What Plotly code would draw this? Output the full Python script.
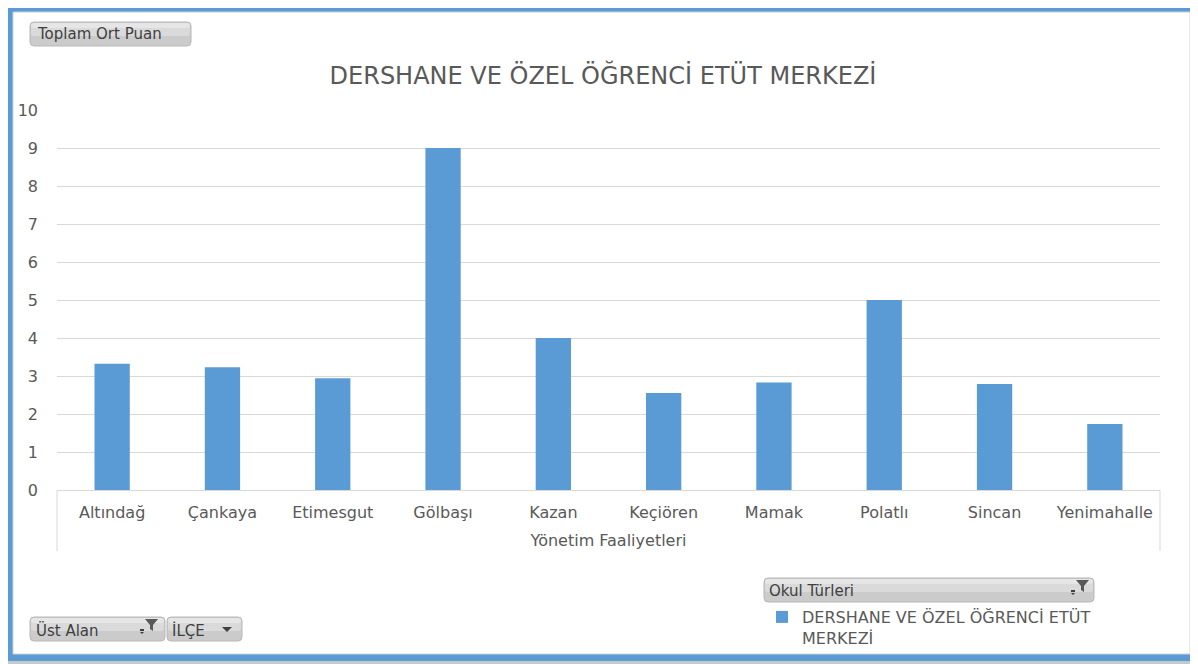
import plotly.graph_objects as go

# the page puts the figure 8px in from the top-left corner
OFF = 8
W, H = 1198 - OFF, 664 - OFF

ilceler = ["Altındağ", "Çankaya", "Etimesgut", "Gölbaşı", "Kazan",
           "Keçiören", "Mamak", "Polatlı", "Sincan", "Yenimahalle"]
puanlar = [3.32, 3.23, 2.94, 9.0, 4.0, 2.55, 2.83, 5.0, 2.79, 1.74]
y_ticks = list(range(0, 11))

seri_adi = "DERSHANE VE ÖZEL ÖĞRENCİ ETÜT MERKEZİ"
baslik = "DERSHANE VE ÖZEL ÖĞRENCİ ETÜT MERKEZİ"
x_baslik = "Yönetim Faaliyetleri"

MAVI = "#5b9bd5"
GRI_YAZI = "#595959"
GRID = "#d9d9d9"
FONT = "DejaVu Sans"

# plot area, in page pixels: x 57..1160, y 110..490
ML, MR = 57 - OFF, 1198 - 1160
MT, MB = 110 - OFF, 664 - 490
PW = W - ML - MR
PH = H - MT - MB


def fx(px):
    return (px - OFF - ML) / PW


def fy(py):
    return (490 - py) / PH


def rrect(x0, y0, x1, y1, r=4):
    # rounded rectangle, page pixels -> paper coords
    rx, ry = r / PW, r / PH
    a, b, c, d = fx(x0), fx(x1), fy(y0), fy(y1)
    return (f"M {a+rx},{c} L {b-rx},{c} Q {b},{c} {b},{c-ry} "
            f"L {b},{d+ry} Q {b},{d} {b-rx},{d} L {a+rx},{d} "
            f"Q {a},{d} {a},{d+ry} L {a},{c-ry} Q {a},{c} {a+rx},{c} Z")


def rect(x0, y0, x1, y1, fill, line=None, layer="below"):
    return dict(type="rect", xref="paper", yref="paper",
                x0=fx(x0), x1=fx(x1), y0=fy(y1), y1=fy(y0),
                fillcolor=fill, line=dict(width=0 if line is None else 1,
                                          color=line or fill),
                layer=layer)


def poly(pts, color):
    p = "M " + " L ".join(f"{fx(x)},{fy(y)}" for x, y in pts) + " Z"
    return dict(type="path", path=p, xref="paper", yref="paper",
                fillcolor=color, line=dict(width=0), layer="above")


def button(x0, y0, x1, y1):
    mid = (y0 + y1) / 2
    return [
        dict(type="path", path=rrect(x0, y0, x1, y1), xref="paper", yref="paper",
             fillcolor="#cbcbcb", line=dict(color="#b8b8b8", width=1), layer="above"),
        dict(type="path", path=rrect(x0 + 1, y0 + 1, x1 - 1, mid + 2, 3),
             xref="paper", yref="paper", fillcolor="#dadada",
             line=dict(width=0), layer="above"),
        dict(type="path", path=rrect(x0 + 1, y0 + 1, x1 - 1, y0 + 6, 3),
             xref="paper", yref="paper", fillcolor="#e6e6e6",
             line=dict(width=0), layer="above"),
    ]


def funnel(x, y):
    # x,y = top-left of the funnel icon
    return [
        poly([(x, y), (x + 13, y), (x + 8, y + 6), (x + 8, y + 12),
              (x + 5, y + 10), (x + 5, y + 6)], "#595959"),
        rect(x - 5, y + 10, x - 1, y + 12, "#404040", layer="above"),
        poly([(x - 5, y + 13), (x - 1, y + 13), (x - 3, y + 15)], "#404040"),
    ]


fig = go.Figure()
fig.add_trace(go.Bar(
    x=ilceler, y=puanlar,
    name=seri_adi.replace("ETÜT ", "ETÜT<br>"),
    marker=dict(color=MAVI, line=dict(width=0)),
    showlegend=True,
))

shapes = [
    # blue frame with a soft shadow
    rect(7, 6, 1198, 664, "#c8c8c8"),
    rect(5, 3, 1196, 661, MAVI),
    rect(13, 12, 1190, 654, "#ffffff", line="#d0d0d0"),
    # category axis box
    dict(type="line", xref="paper", yref="paper", x0=0, x1=0, y0=fy(490), y1=fy(551),
         line=dict(color=GRID, width=1), layer="below"),
    dict(type="line", xref="paper", yref="paper", x0=1, x1=1, y0=fy(490), y1=fy(551),
         line=dict(color=GRID, width=1), layer="below"),
]
shapes += button(30, 22, 191, 46)
shapes += button(30, 617, 165, 641)
shapes += button(167, 617, 242, 641)
shapes += button(764, 578, 1094, 602)
shapes += funnel(145, 619)
shapes += funnel(1076, 580)
shapes.append(poly([(222, 627), (232, 627), (227, 632)], "#404040"))

annotations = [
    dict(text="Toplam Ort Puan", x=fx(35), y=fy(34)),
    dict(text="Üst Alan", x=fx(34), y=fy(630)),
    dict(text="İLÇE", x=fx(170), y=fy(630)),
    dict(text="Okul Türleri", x=fx(767), y=fy(591)),
]
for a in annotations:
    a.update(xref="paper", yref="paper", xanchor="left", yanchor="middle",
             showarrow=False, font=dict(family=FONT, size=15, color="#3f3f3f"))

fig.update_layout(
    width=W, height=H,
    margin=dict(l=ML, r=MR, t=MT, b=MB, autoexpand=False),
    paper_bgcolor="#ffffff",
    plot_bgcolor="rgba(0,0,0,0)",
    font=dict(family=FONT, color=GRI_YAZI),
    title=dict(text=baslik, x=fx(603), y=1 - (76 - OFF) / H, xanchor="center",
               yanchor="middle", xref="paper",
               font=dict(family=FONT, size=24, color=GRI_YAZI)),
    bargap=0.68,
    xaxis=dict(
        showgrid=False, showline=True, linecolor=GRID, linewidth=1,
        ticks="", ticklabelstandoff=8, tickfont=dict(size=16, color=GRI_YAZI),
        title=dict(text=x_baslik, font=dict(size=16, color=GRI_YAZI), standoff=13),
    ),
    yaxis=dict(
        range=[0, 10], tickvals=y_ticks, showgrid=True, gridcolor=GRID,
        gridwidth=1, zeroline=False, showline=False, ticks="",
        ticklabelstandoff=18, tickfont=dict(size=16, color=GRI_YAZI),
    ),
    legend=dict(
        x=fx(762), y=fy(600), xanchor="left", yanchor="top",
        bgcolor="rgba(0,0,0,0)", valign="top", itemwidth=30,
        font=dict(family=FONT, size=16, color=GRI_YAZI),
    ),
    shapes=shapes,
    annotations=annotations,
)

fig.write_html("out.html")
